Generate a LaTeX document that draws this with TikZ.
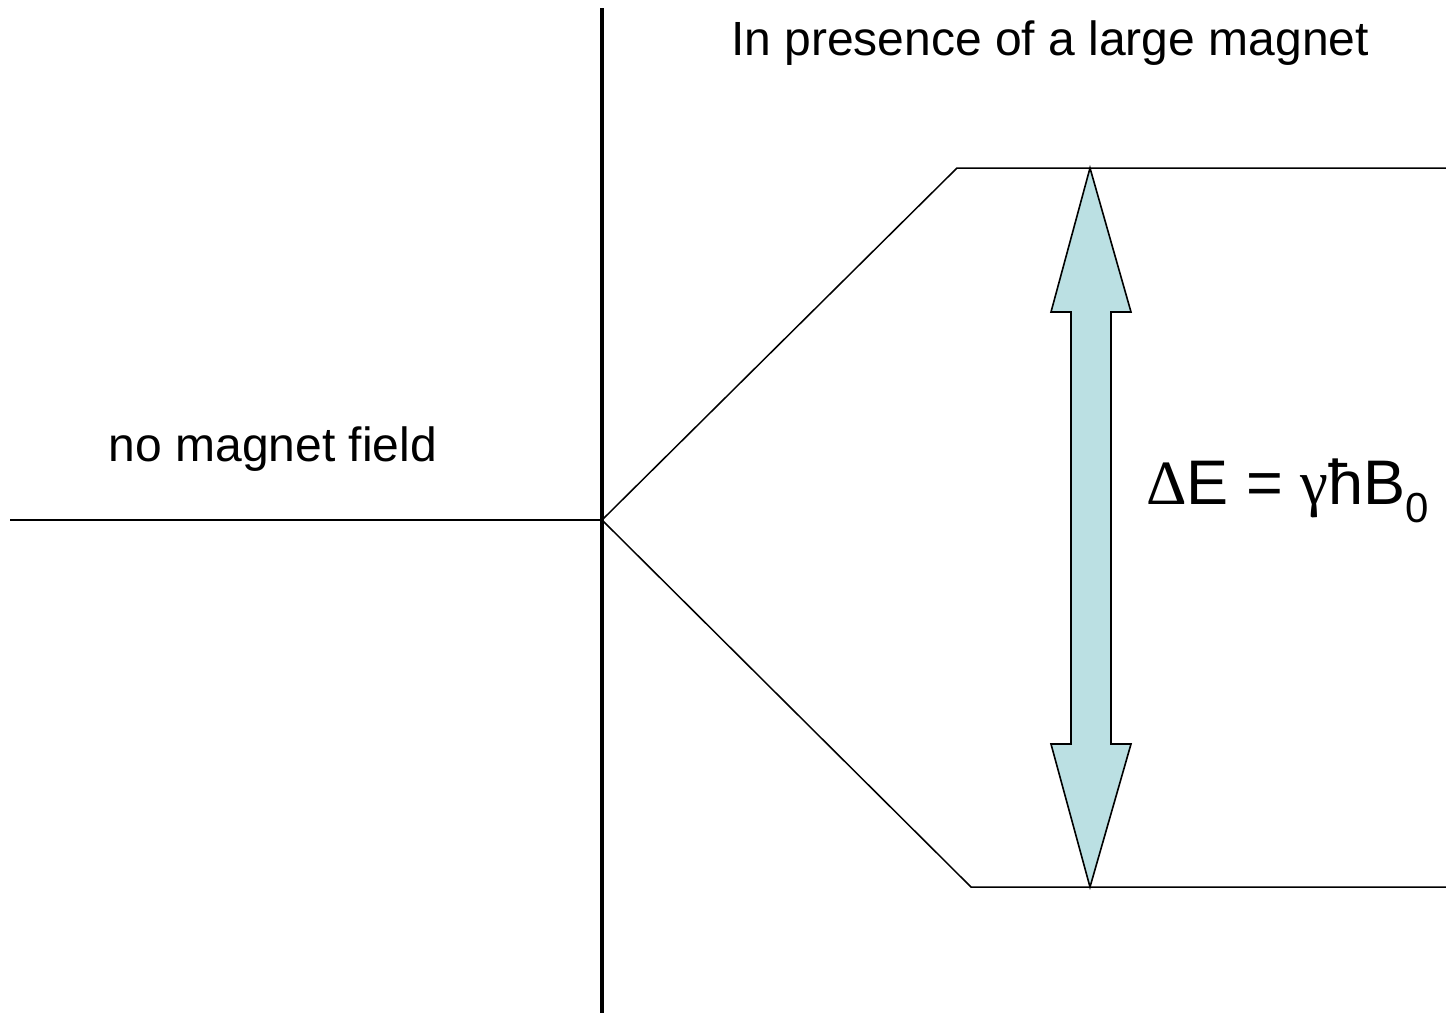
\documentclass[tikz,border=0pt]{standalone}
\usepackage{fontspec}
\setmainfont{Liberation Sans}
\newfontfamily\symfont{Liberation Serif}
\definecolor{arrowfill}{RGB}{187,224,227}
\begin{document}
\begin{tikzpicture}[x=0.5pt,y=-0.5pt,
  level/.style={line width=0.75pt},
  axis/.style={line width=1.6pt},
  lbl/.style={font=\fontsize{24}{28}\selectfont, inner sep=0pt},
  eqlbl/.style={font=\fontsize{31.5}{36}\selectfont, inner sep=0pt, anchor=base west},
  bigarrow/.style={fill=arrowfill, draw=black, line width=0.8pt, line join=miter}]
\useasboundingbox (0,0) rectangle (1446,1013);
% coordinates
\coordinate (vtop) at (602,8);
\coordinate (vbot) at (602,1013);
\coordinate (left) at (10,520);
\coordinate (split) at (602,520);
\coordinate (ukink) at (957,168);
\coordinate (uend) at (1446,168);
\coordinate (lkink) at (971,887);
\coordinate (lend) at (1446,887);
\coordinate (atop) at (1090,168);
\coordinate (abot) at (1090,887);
% arrow
\draw[bigarrow] (atop) -- (1131,312) -- (1111,312) -- (1111,744) -- (1131,744)
  -- (abot) -- (1051,744) -- (1071,744) -- (1071,312) -- (1051,312) -- cycle;
% levels
\draw[level] (left) -- (split);
\draw[level] (split) -- (ukink) -- (uend);
\draw[level] (split) -- (lkink) -- (lend);
\draw[axis] (vtop) -- (vbot);
% texts
\node[lbl] (nofield) at (273,449) {no magnet field};
\node[lbl] (magnet) at (1050,43) {In presence of a large magnet};
\node[eqlbl] (eq) at (1146,504) {{\symfont Δ}E = {\symfont γ}ħB\raisebox{-0.55ex}{\fontsize{21}{24}\selectfont 0}};
\end{tikzpicture}
\end{document}
